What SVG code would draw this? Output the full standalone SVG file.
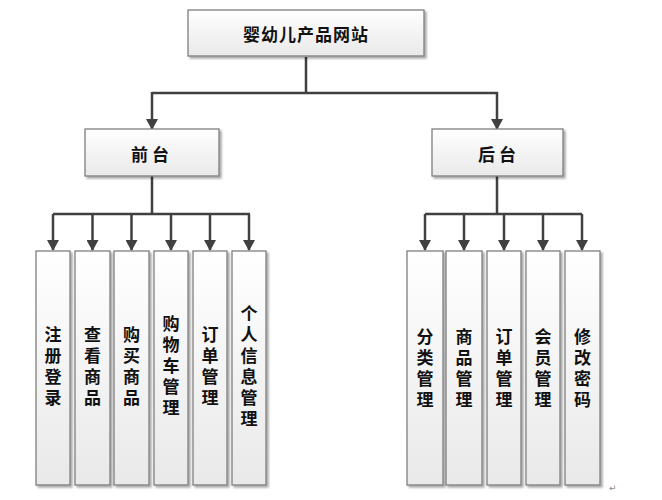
<svg xmlns="http://www.w3.org/2000/svg" width="662" height="500" viewBox="0 0 662 500">
<defs>
<linearGradient id="g" x1="0" y1="0" x2="0" y2="1">
<stop offset="0" stop-color="#ffffff"/>
<stop offset="1" stop-color="#e9e9e9"/>
</linearGradient>
<marker id="ah" markerWidth="11" markerHeight="12" refX="10" refY="6" orient="auto" markerUnits="userSpaceOnUse" viewBox="0 0 11 12">
<path d="M0,0 L11,6 L0,12 Z" fill="#404040"/>
</marker>
<filter id="sh" x="-20%" y="-20%" width="140%" height="140%">
<feGaussianBlur in="SourceAlpha" stdDeviation="1"/>
<feOffset dx="2" dy="2" result="b"/>
<feComponentTransfer><feFuncA type="linear" slope="0.35"/></feComponentTransfer>
<feMerge><feMergeNode/><feMergeNode in="SourceGraphic"/></feMerge>
</filter>
</defs>
<style>
.box{fill:url(#g);stroke:#7f7f7f;stroke-width:1.3;filter:url(#sh)}
.t{font-family:"Noto Sans CJK SC","Noto Sans CJK TC",sans-serif;font-weight:bold;fill:#111;text-anchor:middle}
.h{font-size:17px;dominant-baseline:central}
.v{font-size:17px;writing-mode:vertical-rl;letter-spacing:4px}
.c{fill:none;stroke:#404040;stroke-width:2.5}
.a{fill:none;stroke:#404040;stroke-width:2.5;marker-end:url(#ah)}
</style>
<rect width="662" height="500" fill="#ffffff"/>

<g id="connectors">
<path class="c" d="M306,57 V93 M152,93 H498 M53,214 H250 M152,176 V214 M425,214 H582 M497,176 V214"/>
<path class="a" d="M152,92 V129"/>
<path class="a" d="M497,92 V129"/>
<path class="a" d="M53,214 V250"/>
<path class="a" d="M92.5,214 V250"/>
<path class="a" d="M131.5,214 V250"/>
<path class="a" d="M171,214 V250"/>
<path class="a" d="M210,214 V250"/>
<path class="a" d="M249,214 V250"/>
<path class="a" d="M425,214 V250"/>
<path class="a" d="M464,214 V250"/>
<path class="a" d="M504,214 V250"/>
<path class="a" d="M543,214 V250"/>
<path class="a" d="M582,214 V250"/>
</g>

<g id="root">
<rect class="box" x="188" y="10" width="236" height="46"/>
<text class="t h" x="306" y="33" letter-spacing="1">婴幼儿产品网站</text>
</g>
<g id="frontend">
<rect class="box" x="85" y="129" width="134" height="47"/>
<text class="t h" x="152" y="153" letter-spacing="4">前台</text>
</g>
<g id="backend">
<rect class="box" x="432" y="129" width="131" height="47"/>
<text class="t h" x="499" y="153" letter-spacing="4">后台</text>
</g>

<g id="n-register">
<rect class="box" x="36" y="251" width="34" height="234"/>
<text class="t v" x="53" y="368">注册登录</text>
</g>
<g id="n-view">
<rect class="box" x="75" y="251" width="35" height="234"/>
<text class="t v" x="92.5" y="368">查看商品</text>
</g>
<g id="n-buy">
<rect class="box" x="114" y="251" width="35" height="234"/>
<text class="t v" x="131.5" y="368">购买商品</text>
</g>
<g id="n-cart">
<rect class="box" x="154" y="251" width="34" height="234"/>
<text class="t v" x="171" y="368">购物车管理</text>
</g>
<g id="n-order">
<rect class="box" x="193" y="251" width="34" height="234"/>
<text class="t v" x="210" y="368">订单管理</text>
</g>
<g id="n-profile">
<rect class="box" x="232" y="251" width="34" height="234"/>
<text class="t v" x="249" y="368">个人信息管理</text>
</g>

<g id="n-category">
<rect class="box" x="407" y="251" width="36" height="234"/>
<text class="t v" x="425" y="370">分类管理</text>
</g>
<g id="n-goods">
<rect class="box" x="446" y="251" width="36" height="234"/>
<text class="t v" x="464" y="370">商品管理</text>
</g>
<g id="n-orders">
<rect class="box" x="487" y="251" width="34" height="234"/>
<text class="t v" x="504" y="370">订单管理</text>
</g>
<g id="n-members">
<rect class="box" x="526" y="251" width="34" height="234"/>
<text class="t v" x="543" y="370">会员管理</text>
</g>
<g id="n-password">
<rect class="box" x="565" y="251" width="35" height="234"/>
<text class="t v" x="582.5" y="370">修改密码</text>
</g>

<text x="609" y="491" font-family="DejaVu Sans, sans-serif" font-size="9" fill="#888">↵</text>
</svg>
